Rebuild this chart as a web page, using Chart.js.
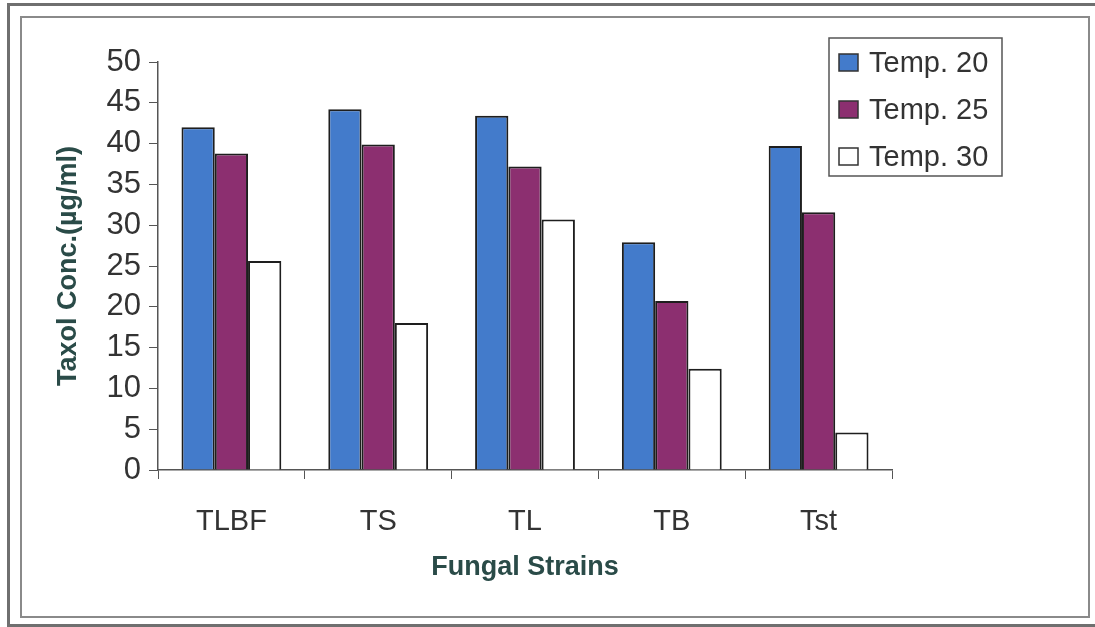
<!DOCTYPE html>
<html lang="en">
<head>
    <meta charset="UTF-8">
    <title>Taxol Concentration by Fungal Strain</title>
    <script src="https://cdn.jsdelivr.net/npm/chart.js"></script>
    <style>
        body {
            margin: 0;
            background: white;
            width: 1095px;
            height: 627px;
            overflow: hidden;
            position: relative;
        }
        .outer-frame {
            position: absolute;
            left: 7px;
            top: 3px;
            width: 1100px;
            height: 618px;
            border: 3px solid #6f6f6f;
        }
        .inner-frame {
            position: absolute;
            left: 20px;
            top: 16px;
            width: 1066px;
            height: 598px;
            border: 2px solid #8a8a8a;
        }
        #chartBox {
            position: absolute;
            left: 0;
            top: 0;
        }
    </style>
</head>
<body>
    <div class="outer-frame"></div>
    <div class="inner-frame"></div>
    <canvas id="chartBox" width="1095" height="627"></canvas>
    <script>
        // data
        const strains = ['TLBF', 'TS', 'TL', 'TB', 'Tst'];
        const temp20 = [42.0, 44.2, 43.4, 27.9, 39.7];
        const temp25 = [38.8, 39.9, 37.2, 20.7, 31.6];
        const temp30 = [25.6, 18.0, 30.7, 12.4, 4.6];
        const seriesNames = ['Temp. 20', 'Temp. 25', 'Temp. 30'];
        const yTicks = [0, 5, 10, 15, 20, 25, 30, 35, 40, 45, 50];

        const fontFamily = "'Liberation Sans', Arial, sans-serif";
        const titleColor = '#2a4b48';
        const textColor = '#333333';

        // legend box sits inside the plot, top right, like the original
        const boxLegend = {
            id: 'boxLegend',
            afterDraw(chart) {
                const ctx = chart.ctx;
                const x = 829, y = 38, w = 173, h = 138;
                ctx.save();
                ctx.fillStyle = 'white';
                ctx.fillRect(x, y, w, h);
                ctx.strokeStyle = '#555';
                ctx.lineWidth = 1.5;
                ctx.strokeRect(x, y, w, h);
                ctx.font = '29px ' + fontFamily;
                ctx.textBaseline = 'middle';
                chart.data.datasets.forEach((ds, i) => {
                    const cy = y + 25 + i * 47;
                    ctx.fillStyle = ds.backgroundColor;
                    ctx.fillRect(x + 10, cy - 9, 19, 17);
                    ctx.strokeStyle = '#333';
                    ctx.lineWidth = 1.5;
                    ctx.strokeRect(x + 10, cy - 9, 19, 17);
                    ctx.fillStyle = textColor;
                    ctx.fillText(ds.label, x + 40, cy + 1);
                });
                ctx.restore();
            }
        };

        const ctx = document.getElementById('chartBox').getContext('2d');
        new Chart(ctx, {
            type: 'bar',
            data: {
                labels: strains,
                datasets: [
                    { label: seriesNames[0], data: temp20, backgroundColor: '#437bcb' },
                    { label: seriesNames[1], data: temp25, backgroundColor: '#8c2f70' },
                    { label: seriesNames[2], data: temp30, backgroundColor: '#ffffff' }
                ]
            },
            options: {
                responsive: false,
                animation: false,
                layout: {
                    padding: { left: 52, top: 62, right: 203, bottom: 43 }
                },
                datasets: {
                    bar: {
                        categoryPercentage: 0.68,
                        barPercentage: 1.0,
                        borderColor: '#1e1e1e',
                        borderWidth: 2
                    }
                },
                plugins: {
                    legend: { display: false },
                    tooltip: { enabled: false }
                },
                scales: {
                    x: {
                        grid: {
                            drawOnChartArea: false,
                            tickLength: 9,
                            color: '#555'
                        },
                        border: { color: '#555', width: 1.5 },
                        ticks: {
                            color: textColor,
                            padding: 26,
                            font: { family: fontFamily, size: 29 }
                        },
                        title: {
                            display: true,
                            text: 'Fungal Strains',
                            color: titleColor,
                            padding: 0,
                            font: { family: fontFamily, size: 27, weight: 'bold' }
                        },
                        afterFit: s => { s.height = 114; }
                    },
                    y: {
                        min: 0,
                        max: 50,
                        grid: {
                            drawOnChartArea: false,
                            tickLength: 9,
                            color: '#555'
                        },
                        border: { color: '#555', width: 1.5 },
                        afterBuildTicks: s => { s.ticks = yTicks.map(v => ({ value: v })); },
                        ticks: {
                            color: textColor,
                            padding: 8,
                            font: { family: fontFamily, size: 31 }
                        },
                        title: {
                            display: true,
                            text: 'Taxol Conc.(µg/ml)',
                            color: titleColor,
                            padding: 0,
                            font: { family: fontFamily, size: 27, weight: 'bold' }
                        },
                        afterFit: s => { s.width = 106; }
                    }
                }
            },
            plugins: [boxLegend]
        });
    </script>
</body>
</html>
